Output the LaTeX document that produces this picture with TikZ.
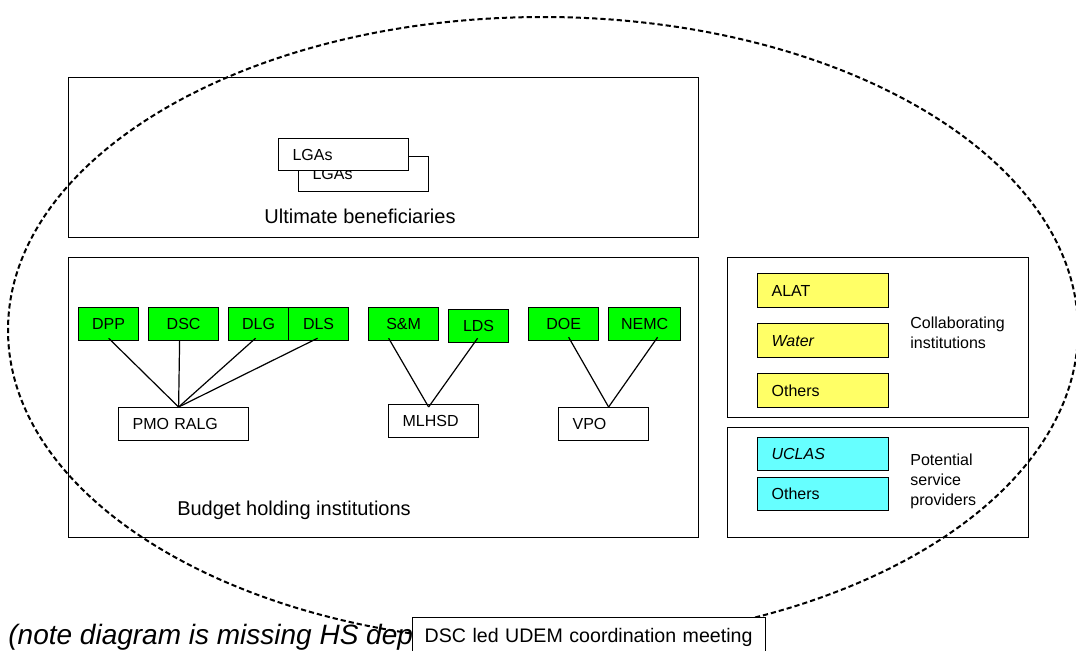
\documentclass[tikz,border=0pt]{standalone}
\usepackage{fontspec}
\setmainfont{Liberation Sans}
\definecolor{boxgreen}{RGB}{0,255,0}
\definecolor{boxyellow}{RGB}{255,255,102}
\definecolor{boxcyan}{RGB}{102,255,255}
\begin{document}
\begin{tikzpicture}[x=0.5pt,y=-0.5pt,
  frame/.style={draw, line width=0.65pt, anchor=north west, inner sep=0pt},
  small/.style={font=\fontsize{8}{10}\selectfont, inner sep=0pt},
  big/.style={font=\fontsize{10}{12}\selectfont, inner sep=0pt},
  gbox/.style={draw, line width=0.6pt, fill=boxgreen, anchor=north west,
    minimum height=16.5pt, inner sep=0pt, font=\fontsize{8}{10}\selectfont},
  lbox/.style={draw, line width=0.6pt, anchor=north west, minimum height=16.5pt,
    inner xsep=7pt, inner ysep=0pt, align=left, text width=#1,
    font=\fontsize{8}{10}\selectfont},
  link/.style={line width=0.6pt},
  oval/.style={line width=1pt, dash pattern=on 2.6pt off 1.5pt}
]
\clip (0,0) rectangle (1076,650);
\fill[white] (0,0) rectangle (1076,650);

% Ultimate beneficiaries
\node[frame, minimum width=315pt, minimum height=80pt] (benef) at (68,77) {};
\node[lbox=51pt, minimum height=17.5pt] (lgaback) at (298,156) {LGAs};
\node[lbox=51pt, fill=white, minimum height=16pt] (lgafront) at (278,138) {LGAs};
\node[big] (benefl) at (360,216) {Ultimate beneficiaries};

% Budget holding institutions
\node[frame, minimum width=315pt, minimum height=140pt] (budget) at (68,257) {};
\node[big] (budgetl) at (294,510) {Budget holding institutions};

\node[gbox, minimum width=30pt] (DPP) at (78,307) {DPP};
\node[gbox, minimum width=35pt] (DSC) at (148,307) {DSC};
\node[gbox, minimum width=30pt] (DLG) at (228,307) {DLG};
\node[gbox, minimum width=30pt] (DLS) at (288,307) {DLS};
\node[gbox, minimum width=35pt] (SM) at (368,307) {S\&M};
\node[gbox, minimum width=30pt] (LDS) at (448,309) {LDS};
\node[gbox, minimum width=35pt] (DOE) at (528,307) {DOE};
\node[gbox, minimum width=36pt] (NEMC) at (608,307) {NEMC};

\node[lbox=51pt] (PMO) at (118,407) {PMO RALG};
\node[lbox=31pt] (MLHSD) at (388,404) {MLHSD};
\node[lbox=31pt] (VPO) at (558,407) {VPO};

\draw[link] ([yshift=1.5pt]DPP.south) -- ([xshift=-2.5pt]PMO.north);
\draw[link] ([xshift=-2pt]DSC.south) -- ([xshift=-2.5pt]PMO.north);
\draw[link] ([xshift=-1.5pt,yshift=1.5pt]DLG.south) -- ([xshift=-2.5pt]PMO.north);
\draw[link] ([xshift=-0.5pt,yshift=1.5pt]DLS.south) -- ([xshift=-2.5pt]PMO.north);
\draw[link] ([xshift=-7.5pt,yshift=1.5pt]SM.south) -- ([xshift=-2.5pt,yshift=-1.5pt]MLHSD.north);
\draw[link] ([xshift=-0.5pt,yshift=2.5pt]LDS.south) -- ([xshift=-2.5pt,yshift=-1.5pt]MLHSD.north);
\draw[link] ([xshift=2.5pt,yshift=2pt]DOE.south) -- ([xshift=2.5pt]VPO.north);
\draw[link] ([xshift=6.5pt,yshift=2pt]NEMC.south) -- ([xshift=2.5pt]VPO.north);

% Collaborating institutions
\node[frame, minimum width=150.5pt, minimum height=80pt] (collab) at (727,257) {};
\node[lbox=51.5pt, fill=boxyellow, minimum height=17pt] (ALAT) at (757,273) {ALAT};
\node[lbox=51.5pt, fill=boxyellow, minimum height=17pt] (Water) at (757,323) {\itshape Water};
\node[lbox=51.5pt, fill=boxyellow, minimum height=17pt] (OthersY) at (757,373) {Others};
\node[small, anchor=west, align=left] (collabl) at (910,333) {Collaborating\\institutions};

% Potential service providers
\node[frame, minimum width=150.5pt, minimum height=55pt] (provid) at (727,427) {};
\node[lbox=51.5pt, fill=boxcyan, minimum height=16.5pt] (UCLAS) at (757,437) {\itshape UCLAS};
\node[lbox=51.5pt, fill=boxcyan, minimum height=16.5pt] (OthersC) at (757,477) {Others};
\node[small, anchor=west, align=left] (providl) at (910,481) {Potential\\service\\providers};

% dashed oval
\draw[oval] (543,330) ellipse [x radius=267.5pt, y radius=156.5pt];

% note and meeting box
\node[anchor=base west, inner sep=0pt, font=\fontsize{14}{16}\selectfont\itshape] (note) at (8,644) {(note diagram is missing HS dept};
\node[lbox=164.5pt, inner xsep=6pt, fill=white, minimum height=20pt, font=\fontsize{9.8}{12}\selectfont] (meeting) at (412,617) {DSC led UDEM coordination meeting};
\end{tikzpicture}
\end{document}
